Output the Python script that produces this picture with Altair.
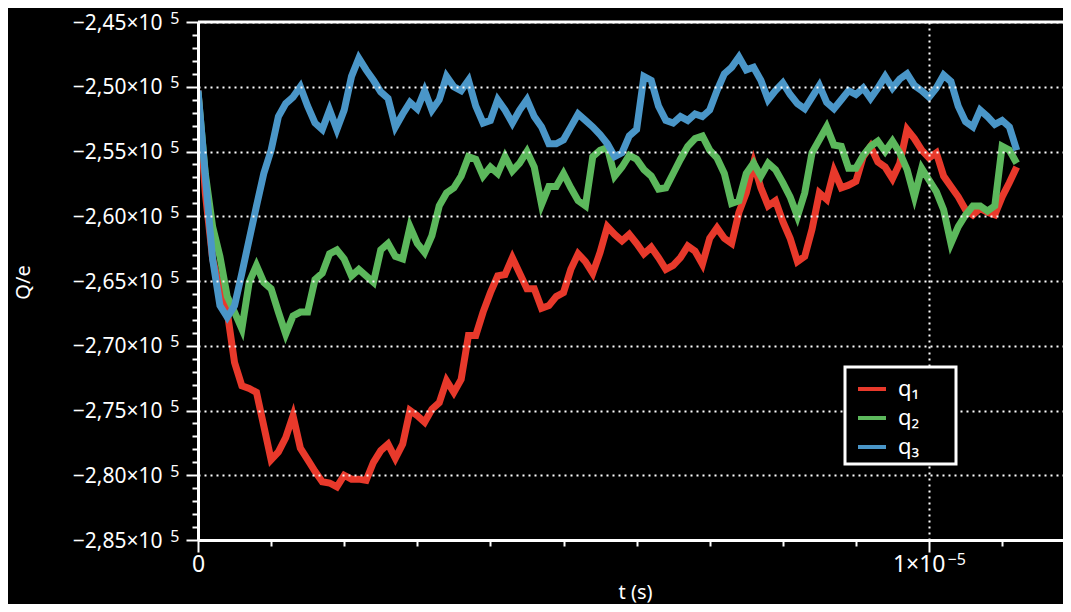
import altair as alt
import pandas as pd

# time grid in microseconds
t_us = [0.0, 0.1, 0.2, 0.3, 0.4, 0.5, 0.6, 0.7, 0.8, 0.9,
        1.0, 1.1, 1.2, 1.3, 1.4, 1.5, 1.6, 1.7, 1.8, 1.9,
        2.0, 2.1, 2.2, 2.3, 2.4, 2.5, 2.6, 2.7, 2.8, 2.9,
        3.0, 3.1, 3.2, 3.3, 3.4, 3.5, 3.6, 3.7, 3.8, 3.9,
        4.0, 4.1, 4.2, 4.3, 4.4, 4.5, 4.6, 4.7, 4.8, 4.9,
        5.0, 5.1, 5.2, 5.3, 5.4, 5.5, 5.6, 5.7, 5.8, 5.9,
        6.0, 6.1, 6.2, 6.3, 6.4, 6.5, 6.6, 6.7, 6.8, 6.9,
        7.0, 7.1, 7.2, 7.3, 7.4, 7.5, 7.6, 7.7, 7.8, 7.9,
        8.0, 8.1, 8.2, 8.3, 8.4, 8.5, 8.6, 8.7, 8.8, 8.9,
        9.0, 9.1, 9.2, 9.3, 9.4, 9.5, 9.6, 9.7, 9.8, 9.9,
        10.0, 10.1, 10.2, 10.3, 10.4, 10.5, 10.6, 10.7, 10.8, 10.9,
        11.0, 11.1, 11.2]

# charge values (units of 1e5 e)
q1 = [-2.503, -2.582, -2.633, -2.656, -2.674, -2.713, -2.731, -2.733, -2.736, -2.762,
      -2.788, -2.782, -2.771, -2.754, -2.779, -2.788, -2.797, -2.805, -2.806, -2.809,
      -2.800, -2.803, -2.803, -2.804, -2.790, -2.781, -2.776, -2.787, -2.776, -2.750,
      -2.754, -2.759, -2.749, -2.744, -2.727, -2.736, -2.726, -2.692, -2.692, -2.674,
      -2.659, -2.646, -2.645, -2.632, -2.644, -2.656, -2.656, -2.671, -2.669, -2.662,
      -2.659, -2.641, -2.629, -2.635, -2.644, -2.628, -2.608, -2.614, -2.619, -2.614,
      -2.621, -2.629, -2.624, -2.632, -2.641, -2.638, -2.632, -2.623, -2.627, -2.637,
      -2.617, -2.609, -2.617, -2.621, -2.597, -2.582, -2.559, -2.578, -2.592, -2.588,
      -2.604, -2.617, -2.635, -2.631, -2.610, -2.582, -2.587, -2.565, -2.578, -2.576,
      -2.573, -2.554, -2.546, -2.558, -2.562, -2.571, -2.559, -2.533, -2.540, -2.549,
      -2.555, -2.551, -2.569, -2.577, -2.585, -2.595, -2.599, -2.594, -2.597, -2.599,
      -2.585, -2.574, -2.562]

q2 = [-2.504, -2.567, -2.608, -2.631, -2.662, -2.674, -2.687, -2.651, -2.638, -2.651,
      -2.656, -2.674, -2.691, -2.677, -2.674, -2.674, -2.649, -2.644, -2.629, -2.626,
      -2.633, -2.646, -2.641, -2.646, -2.651, -2.626, -2.621, -2.631, -2.633, -2.608,
      -2.621, -2.628, -2.615, -2.592, -2.582, -2.578, -2.569, -2.554, -2.556, -2.569,
      -2.562, -2.567, -2.554, -2.565, -2.559, -2.550, -2.562, -2.591, -2.577, -2.577,
      -2.567, -2.578, -2.588, -2.592, -2.554, -2.549, -2.547, -2.569, -2.562, -2.553,
      -2.556, -2.564, -2.569, -2.579, -2.578, -2.567, -2.556, -2.546, -2.540, -2.538,
      -2.549, -2.555, -2.567, -2.590, -2.588, -2.567, -2.559, -2.569, -2.559, -2.564,
      -2.574, -2.585, -2.600, -2.582, -2.551, -2.541, -2.531, -2.545, -2.546, -2.563,
      -2.563, -2.553, -2.546, -2.542, -2.550, -2.542, -2.551, -2.564, -2.585, -2.563,
      -2.572, -2.581, -2.595, -2.621, -2.608, -2.599, -2.592, -2.592, -2.596, -2.592,
      -2.546, -2.549, -2.559]

q3 = [-2.503, -2.569, -2.633, -2.669, -2.678, -2.669, -2.644, -2.618, -2.592, -2.567,
      -2.549, -2.523, -2.513, -2.508, -2.500, -2.515, -2.528, -2.533, -2.518, -2.533,
      -2.518, -2.492, -2.478, -2.487, -2.495, -2.504, -2.509, -2.531, -2.521, -2.512,
      -2.517, -2.503, -2.518, -2.510, -2.492, -2.500, -2.503, -2.495, -2.515, -2.528,
      -2.526, -2.510, -2.518, -2.528, -2.518, -2.510, -2.523, -2.531, -2.544, -2.544,
      -2.541, -2.531, -2.521, -2.526, -2.531, -2.537, -2.544, -2.554, -2.551, -2.538,
      -2.533, -2.492, -2.495, -2.515, -2.526, -2.528, -2.523, -2.526, -2.521, -2.523,
      -2.518, -2.503, -2.490, -2.485, -2.477, -2.487, -2.485, -2.495, -2.510, -2.503,
      -2.497, -2.506, -2.513, -2.517, -2.508, -2.499, -2.512, -2.517, -2.510, -2.503,
      -2.506, -2.501, -2.509, -2.501, -2.492, -2.501, -2.494, -2.490, -2.499, -2.503,
      -2.508, -2.501, -2.491, -2.496, -2.515, -2.527, -2.531, -2.518, -2.523, -2.529,
      -2.526, -2.531, -2.549]

series_names = ["q\u2081", "q\u2082", "q\u2083"]
series_colors = ["#e8392b", "#5cb85c", "#4a96c8"]

y_ticks = list(range(-285000, -244000, 1000))
y_major_ticks = list(range(-285000, -244000, 5000))
x_ticks = [0.0, 1e-6, 2e-6, 3e-6, 4e-6, 5e-6, 6e-6, 7e-6, 8e-6, 9e-6, 1e-5, 1.1e-5]

rows = []
for name, vals in zip(series_names, [q1, q2, q3]):
    for t, v in zip(t_us, vals):
        rows.append({"t": t * 1e-6, "q": v * 1e5, "series": name})
df = pd.DataFrame(rows)

W, H = 865, 518
FONT = "Noto Sans"

y_major = "datum.value % 5000 == 0"
x_major = "datum.value == 0 || abs(datum.value - 1e-5) < 1e-9"
x_grid = "abs(datum.value - 1e-5) < 1e-9"

x_scale = alt.Scale(domain=[0, 1.1833e-5], nice=False, zero=False)
y_scale = alt.Scale(domain=[-285000, -245000], nice=False, zero=False)

# main axes: ticks, grid and the base part of the labels
y_axis = alt.Axis(
    orient="left", values=y_ticks,
    labelExpr="datum.value % 5000 == 0 ? '\u2212' + replace(format(-datum.value/100000, '.2f'), '.', ',') + '\u00d710' : ''",
    tickSize={"condition": {"test": y_major, "value": 12}, "value": 6},
    gridOpacity={"condition": {"test": y_major, "value": 1}, "value": 0},
    gridColor="white", gridDash=[2, 4], gridWidth=2,
    domainColor="white", domainWidth=3, tickColor="white", tickWidth=2,
    labelColor="white", labelFont=FONT, labelFontSize=21, labelPadding=24,
    labelOffset=1, labelOverlap=False,
    title="Q/e", titleColor="white", titleFont=FONT, titleFontSize=20,
    titleFontWeight="normal", titleX=-175, titleY=260, titleAlign="center",
    titleBaseline="middle", titleAngle=270,
    zindex=1,
)

x_axis = alt.Axis(
    orient="bottom", values=x_ticks,
    labelExpr="datum.value == 0 ? '0' : (abs(datum.value - 1e-5) < 1e-9 ? '1\u00d710' : '')",
    labelAlign={"condition": {"test": "datum.value == 0", "value": "center"}, "value": "right"},
    labelOffset={"condition": {"test": "datum.value == 0", "value": 0}, "value": 16},
    tickSize={"condition": {"test": x_major, "value": 12}, "value": 6},
    gridOpacity={"condition": {"test": x_grid, "value": 1}, "value": 0},
    gridColor="white", gridDash=[2, 4], gridWidth=2,
    domainColor="white", domainWidth=3, tickColor="white", tickWidth=2,
    labelColor="white", labelFont=FONT, labelFontSize=23, labelPadding=1,
    labelOverlap=False, labelFlush=False,
    title="t (s)", titleColor="white", titleFont=FONT, titleFontSize=20,
    titleFontWeight="normal", titleX=437, titleY=52, titleAlign="center",
    titleBaseline="middle",
    zindex=1,
)

# overlay axes carrying only the exponents (superscripts)
y_axis_sup = alt.Axis(
    orient="left", values=y_major_ticks,
    labelExpr="'5'",
    grid=False, domain=False, tickSize=12, tickOpacity=0,
    labelColor="white", labelFont=FONT, labelFontSize=16, labelPadding=7,
    labelOffset=-4, labelOverlap=False,
    title="", zindex=1,
)

x_axis_sup = alt.Axis(
    orient="bottom", values=[1e-5],
    labelExpr="'\u22125'",
    grid=False, domain=False, tickSize=12, tickOpacity=0,
    labelColor="white", labelFont=FONT, labelFontSize=16, labelPadding=-1,
    labelAlign="left", labelOffset=18, labelOverlap=False, labelFlush=False,
    title="", zindex=1,
)

lines = alt.Chart(df).mark_line(strokeWidth=7, strokeJoin="miter", clip=True).encode(
    x=alt.X("t:Q", scale=x_scale, axis=x_axis),
    y=alt.Y("q:Q", scale=y_scale, axis=y_axis),
    color=alt.Color(
        "series:N",
        scale=alt.Scale(domain=series_names, range=series_colors),
        legend=alt.Legend(
            title="MM", titleOrient="right", titleColor="black", titleFontSize=13,
            titlePadding=6, titleFont=FONT,
            orient="none", legendX=647, legendY=345,
            fillColor="black", strokeColor="white", padding=6, rowPadding=2,
            symbolType="stroke", symbolSize=784, symbolStrokeWidth=4, symbolOffset=5,
            labelColor="white", labelFont=FONT, labelFontSize=22,
            labelOffset=10,
            zindex=2,
        ),
    ),
    order=alt.Order("t:Q"),
)

sup_layer = alt.Chart(df).mark_line(opacity=0).encode(
    x=alt.X("t:Q", scale=x_scale, axis=x_axis_sup),
    y=alt.Y("q:Q", scale=y_scale, axis=y_axis_sup),
    detail="series:N",
)

top_frame = alt.Chart(pd.DataFrame({"k": [0]})).mark_rule(color="white", strokeWidth=3).encode(
    x=alt.value(0), x2=alt.value(W), y=alt.value(0)
)

chart = alt.layer(lines, sup_layer, top_frame).resolve_axis(
    x="independent", y="independent"
).properties(
    width=W, height=H,
    background="black",
    autosize=alt.AutoSizeParams(type="none"),
    padding={"left": 190, "top": 14, "right": 0, "bottom": 64},
).configure_view(strokeWidth=0).configure_legend(strokeWidth=3)

chart.save("out.html", embed_options={"renderer": "svg", "actions": False})
